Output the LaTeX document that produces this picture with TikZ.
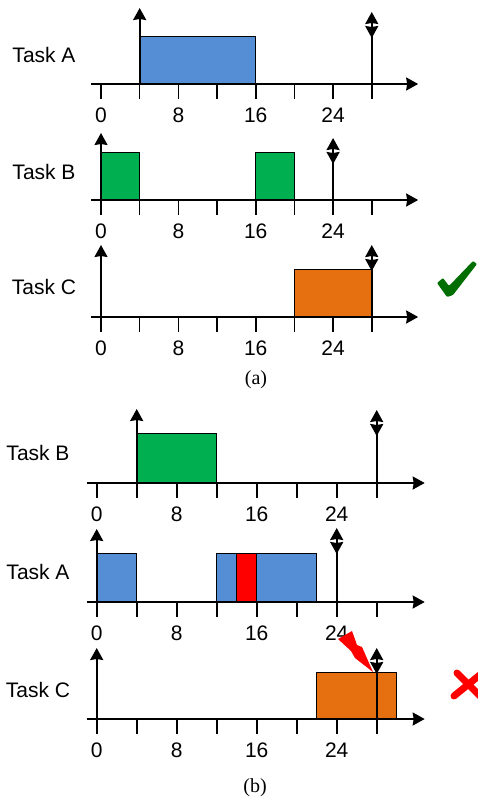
\documentclass[tikz,border=0pt]{standalone}
\usepackage{fontspec}
\setmainfont{Liberation Serif}
\setsansfont{Liberation Sans}
\usetikzlibrary{arrows.meta}
\definecolor{jobblue}{RGB}{85,142,213}
\definecolor{jobgreen}{RGB}{0,176,80}
\definecolor{joborange}{RGB}{230,112,16}
\definecolor{okgreen}{RGB}{0,110,0}
\begin{document}
\begin{tikzpicture}[x=1pt,y=-1pt,line cap=butt,line join=miter,
		>={Stealth[length=12pt,width=13pt,inset=1pt]},font=\sffamily\fontsize{21}{25}\selectfont]
	\tikzset{job/.style={draw=black,line width=0.8pt},
		rel/.style={line width=1.8pt,->},
		tl/.pic={
			\draw[line width=2pt,->] (-1,0)--(32.8,0);
			\foreach \t in {0,4,...,28} \draw[line width=1.6pt] (\t,0)--(\t,-15);
			\foreach \t in {0,8,16,24} \node (-n\t) at (\t,-31) {\t};
		},
		dl/.pic={
			\draw[rel] (0,0)--(0,#1);
			\draw[rel] (0,{#1-14})--(0,{#1-26});
		}
	}
	\useasboundingbox (0,0) rectangle (478,798);
	% (a)
	\begin{scope}[shift={(101,84)},x=9.67pt,y=1pt]
		\filldraw[job,fill=jobblue] (4,0) rectangle (16,48);
		\pic (a1) {tl};
		\draw[rel] (4,0)--(4,76);
		\pic at (28,0) {dl=72};
	\end{scope}
	\begin{scope}[shift={(101,200)},x=9.67pt,y=1pt]
		\filldraw[job,fill=jobgreen] (0,0) rectangle (4,48) (16,0) rectangle (20,48);
		\pic (a2) {tl};
		\draw[rel] (0,0)--(0,67);
		\pic at (24,0) {dl=62};
	\end{scope}
	\begin{scope}[shift={(101,317)},x=9.67pt,y=1pt]
		\filldraw[job,fill=joborange] (20,0) rectangle (28,48);
		\pic (a3) {tl};
		\draw[rel] (0,0)--(0,72);
		\pic at (28,0) {dl=72};
	\end{scope}
	\node (tA1) at (44,55) {Task A};
	\node (tB1) at (44,172) {Task B};
	\node (tC1) at (44,287) {Task C};
	\node[font=\rmfamily\fontsize{20}{22}\selectfont] (capa) at (256,380) {(a)};
	\fill[okgreen,rounded corners=1pt] (437,283)--(443,278)--(449,286)--(473,261)--(477,264)--(453,295)--(447,297)--cycle;
	% (b)
	\begin{scope}[shift={(96.7,483)},x=10pt,y=1pt]
		\filldraw[job,fill=jobgreen] (4,0) rectangle (12,50);
		\pic (b1) {tl};
		\draw[rel] (4,0)--(4,74);
		\pic at (28,0) {dl=73};
	\end{scope}
	\begin{scope}[shift={(96.7,602)},x=10pt,y=1pt]
		\filldraw[job,fill=jobblue] (0,0) rectangle (4,49) (12,0) rectangle (22,49);
		\filldraw[job,fill=red] (14,0) rectangle (16,49);
		\pic (b2) {tl};
		\draw[rel] (0,0)--(0,73);
		\pic at (24,0) {dl=74};
	\end{scope}
	\begin{scope}[shift={(96.7,719)},x=10pt,y=1pt]
		\filldraw[job,fill=joborange] (22,0) rectangle (30,47);
		\pic (b3) {tl};
		\draw[rel] (0,0)--(0,71);
		\pic at (28,0) {dl=71};
	\end{scope}
	\node (tB2) at (38,453) {Task B};
	\node (tA2) at (38,572) {Task A};
	\node (tC2) at (38,690) {Task C};
	\node[font=\rmfamily\fontsize{20}{22}\selectfont] (capb) at (255,788) {(b)};
	\fill[red] (338,639)--(352,631)--(357,645)--(362,647)--(373,672)--(355,658)--(351,651)--cycle;
	\begin{scope}
		\clip (0,0) rectangle (478,798);
		\draw[red,line width=7pt,line cap=round] (457,673)--(481,697) (454,696)--(481,674);
	\end{scope}
\end{tikzpicture}
\end{document}
